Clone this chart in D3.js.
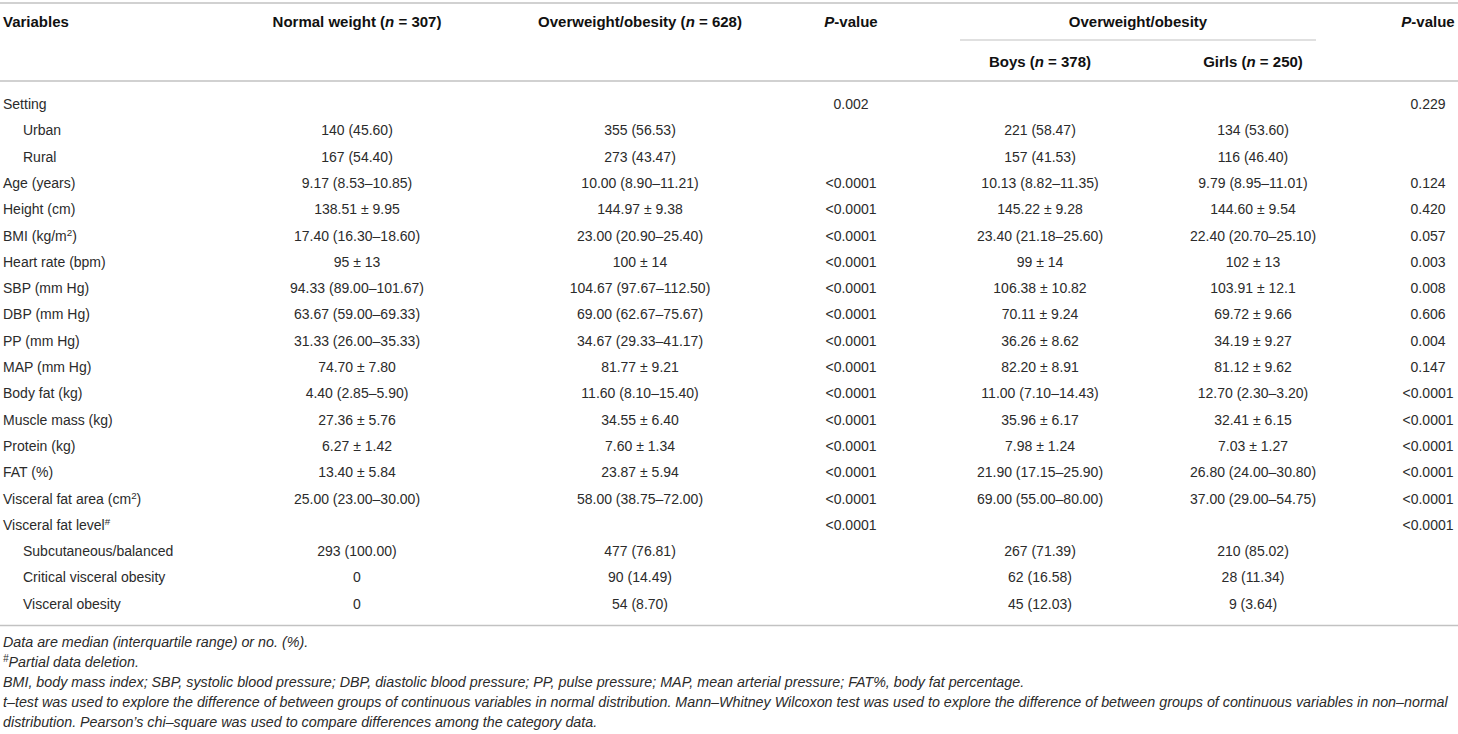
<!DOCTYPE html>
<html>
<head>
<meta charset="utf-8">
<script src="https://cdn.jsdelivr.net/npm/d3@7"></script>
<style>
  body { margin: 0; background: #fff; }
  svg text { font-family: "Liberation Sans", Arial, Helvetica, sans-serif; }
</style>
</head>
<body>
<svg id="table" width="1458" height="734"></svg>
<script>
// table content, row by row; "^" marks the next char as superscript
const variables = [
  'Setting', 'Urban', 'Rural', 'Age (years)', 'Height (cm)', 'BMI (kg/m^2)',
  'Heart rate (bpm)', 'SBP (mm Hg)', 'DBP (mm Hg)', 'PP (mm Hg)', 'MAP (mm Hg)',
  'Body fat (kg)', 'Muscle mass (kg)', 'Protein (kg)', 'FAT (%)',
  'Visceral fat area (cm^2)', 'Visceral fat level^#',
  'Subcutaneous/balanced', 'Critical visceral obesity', 'Visceral obesity'
];
// 0 = variable, 1 = category of the variable above
const rowLevel = [0, 1, 1, 0, 0, 0, 0, 0, 0, 0, 0, 0, 0, 0, 0, 0, 0, 1, 1, 1];

const normalWeight = [
  '', '140 (45.60)', '167 (54.40)', '9.17 (8.53–10.85)', '138.51 ± 9.95',
  '17.40 (16.30–18.60)', '95 ± 13', '94.33 (89.00–101.67)', '63.67 (59.00–69.33)',
  '31.33 (26.00–35.33)', '74.70 ± 7.80', '4.40 (2.85–5.90)', '27.36 ± 5.76',
  '6.27 ± 1.42', '13.40 ± 5.84', '25.00 (23.00–30.00)', '', '293 (100.00)', '0', '0'
];
const overweight = [
  '', '355 (56.53)', '273 (43.47)', '10.00 (8.90–11.21)', '144.97 ± 9.38',
  '23.00 (20.90–25.40)', '100 ± 14', '104.67 (97.67–112.50)', '69.00 (62.67–75.67)',
  '34.67 (29.33–41.17)', '81.77 ± 9.21', '11.60 (8.10–15.40)', '34.55 ± 6.40',
  '7.60 ± 1.34', '23.87 ± 5.94', '58.00 (38.75–72.00)', '', '477 (76.81)', '90 (14.49)', '54 (8.70)'
];
const pWeight = [
  '0.002', '', '', '<0.0001', '<0.0001', '<0.0001', '<0.0001', '<0.0001', '<0.0001',
  '<0.0001', '<0.0001', '<0.0001', '<0.0001', '<0.0001', '<0.0001', '<0.0001',
  '<0.0001', '', '', ''
];
const boys = [
  '', '221 (58.47)', '157 (41.53)', '10.13 (8.82–11.35)', '145.22 ± 9.28',
  '23.40 (21.18–25.60)', '99 ± 14', '106.38 ± 10.82', '70.11 ± 9.24',
  '36.26 ± 8.62', '82.20 ± 8.91', '11.00 (7.10–14.43)', '35.96 ± 6.17',
  '7.98 ± 1.24', '21.90 (17.15–25.90)', '69.00 (55.00–80.00)', '', '267 (71.39)', '62 (16.58)', '45 (12.03)'
];
const girls = [
  '', '134 (53.60)', '116 (46.40)', '9.79 (8.95–11.01)', '144.60 ± 9.54',
  '22.40 (20.70–25.10)', '102 ± 13', '103.91 ± 12.1', '69.72 ± 9.66',
  '34.19 ± 9.27', '81.12 ± 9.62', '12.70 (2.30–3.20)', '32.41 ± 6.15',
  '7.03 ± 1.27', '26.80 (24.00–30.80)', '37.00 (29.00–54.75)', '', '210 (85.02)', '28 (11.34)', '9 (3.64)'
];
const pSex = [
  '0.229', '', '', '0.124', '0.420', '0.057', '0.003', '0.008', '0.606', '0.004',
  '0.147', '<0.0001', '<0.0001', '<0.0001', '<0.0001', '<0.0001', '<0.0001', '', '', ''
];

const groupNames = ['Normal weight', 'Overweight/obesity', 'Boys', 'Girls'];
const groupN = [307, 628, 378, 250];
const spanHeader = 'Overweight/obesity';

const footnotes = [
  'Data are median (interquartile range) or no. (%).',
  '^#Partial data deletion.',
  'BMI, body mass index; SBP, systolic blood pressure; DBP, diastolic blood pressure; PP, pulse pressure; MAP, mean arterial pressure; FAT%, body fat percentage.',
  't–test was used to explore the difference of between groups of continuous variables in normal distribution. Mann–Whitney Wilcoxon test was used to explore the difference of between groups of continuous variables in non–normal',
  'distribution. Pearson’s chi–square was used to compare differences among the category data.'
];

var svg = d3.select('#table');
var W = 1458;
var ruleColor = '#c2c2c2';
var ink = '#2b2b2b';

var columns = [
  { key: 'normal', values: normalWeight },
  { key: 'over', values: overweight },
  { key: 'pWeight', values: pWeight },
  { key: 'boys', values: boys },
  { key: 'girls', values: girls },
  { key: 'pSex', values: pSex }
];

// column centres
var x = d3.scaleOrdinal()
  .domain(columns.map(function (c) { return c.key; }))
  .range([357, 640, 851, 1040, 1253, 1428]);

// one band per body row
var y = d3.scaleBand()
  .domain(d3.range(variables.length))
  .range([91.5, 91.5 + 26.3 * variables.length]);

var baseline = function (i) { return y(i) + 17.5; };

// writes "abc^2" style strings into a text element with tspans
function richText(sel, str) {
  var parts = str.split(/(\^.)/).filter(function (p) { return p; });
  var shift = 0;
  parts.forEach(function (p) {
    if (p[0] === '^') {
      sel.append('tspan').attr('font-size', '0.7em').attr('dy', '-0.45em').text(p[1]);
      shift = 0.45 * 0.7;
    } else {
      var t = sel.append('tspan').text(p);
      if (shift) t.attr('dy', shift + 'em');
      shift = 0;
    }
  });
}

// header segments, italic pieces flagged
function headerText(g, segs, xPos, yPos, anchor) {
  var t = g.append('text')
    .attr('x', xPos)
    .attr('y', yPos)
    .attr('text-anchor', anchor || 'middle')
    .attr('font-size', 15)
    .attr('font-weight', 'bold')
    .attr('fill', '#111');
  segs.forEach(function (s) {
    t.append('tspan').attr('font-style', s.i ? 'italic' : null).text(s.t);
  });
  return t;
}

function groupHeader(k) {
  return [{ t: groupNames[k] + ' (' }, { t: 'n', i: true }, { t: ' = ' + groupN[k] + ')' }];
}
var pHeader = [{ t: 'P', i: true }, { t: '-value' }];

// rules
function rule(x1, x2, yPos, w) {
  svg.append('line')
    .attr('x1', x1).attr('x2', x2)
    .attr('y1', yPos).attr('y2', yPos)
    .attr('stroke', ruleColor)
    .attr('stroke-width', w);
}
rule(0, W, 3, 1.6);
rule(0, W, 81, 1.6);
rule(960, 1316, 40, 1.1);
rule(0, W, y.range()[1] + 8, 1.6);

// header
var head = svg.append('g').attr('class', 'head');
headerText(head, [{ t: 'Variables' }], 3, 27, 'start');
headerText(head, groupHeader(0), x('normal'), 27);
headerText(head, groupHeader(1), x('over'), 27);
headerText(head, pHeader, x('pWeight'), 27);
headerText(head, [{ t: spanHeader }], 1138, 27);
headerText(head, groupHeader(2), x('boys'), 67);
headerText(head, groupHeader(3), x('girls'), 67);
headerText(head, pHeader, x('pSex'), 27);

// body
var body = svg.append('g').attr('class', 'body')
  .attr('font-size', 14)
  .attr('fill', ink);

body.selectAll('text.label')
  .data(variables)
  .enter()
  .append('text')
  .attr('class', 'label')
  .attr('x', function (d, i) { return rowLevel[i] ? 23 : 3; })
  .attr('y', function (d, i) { return baseline(i); })
  .each(function (d) { richText(d3.select(this), d); });

columns.forEach(function (c) {
  // skip the blank cells
  var cells = c.values
    .map(function (v, i) { return { v: v, i: i }; })
    .filter(function (d) { return d.v !== ''; });
  body.selectAll('text.' + c.key)
    .data(cells)
    .enter()
    .append('text')
    .attr('class', c.key)
    .attr('x', x(c.key))
    .attr('y', function (d) { return baseline(d.i); })
    .attr('text-anchor', 'middle')
    .text(function (d) { return d.v; });
});

// footnotes
var notes = svg.append('g').attr('class', 'notes')
  .attr('font-size', 14.3)
  .attr('font-style', 'italic')
  .attr('fill', ink);

notes.selectAll('text')
  .data(footnotes)
  .enter()
  .append('text')
  .attr('x', 3)
  .attr('y', function (d, i) { return 647 + i * 20; })
  .each(function (d) { richText(d3.select(this), d); });
</script>
</body>
</html>
